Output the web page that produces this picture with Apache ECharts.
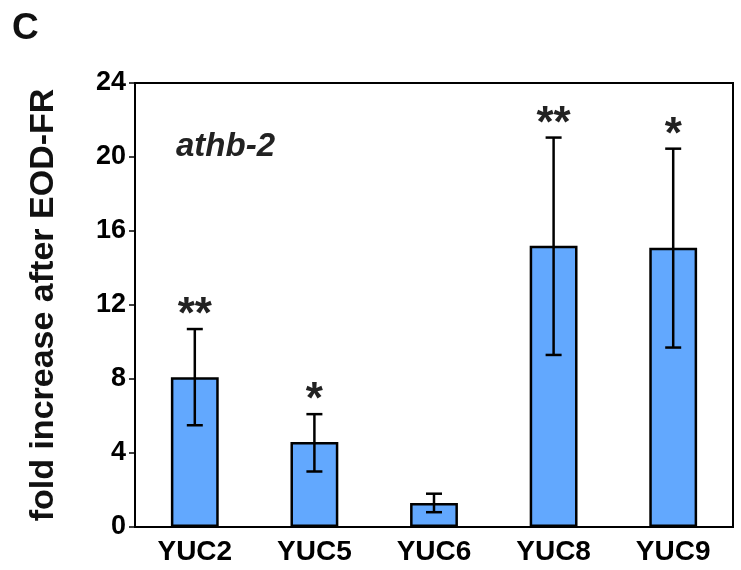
<!DOCTYPE html>
<html>
<head>
<meta charset="utf-8">
<script src="https://cdn.jsdelivr.net/npm/echarts@6/dist/echarts.min.js"></script>
<style>
  html, body { margin: 0; padding: 0; background: #fff; }
  #chart { width: 741px; height: 570px; }
</style>
</head>
<body>
<div id="chart"></div>
<script>
var categories = ['YUC2', 'YUC5', 'YUC6', 'YUC8', 'YUC9'];
var means = [8.1, 4.6, 1.3, 15.2, 15.1];
var errLow = [5.5, 3.0, 0.8, 9.3, 9.7];
var errHigh = [10.7, 6.1, 1.8, 21.05, 20.45];
var stars = ['**', '*', '', '**', '*'];
var yTicks = [0, 4, 8, 12, 16, 20, 24];

var font = '"Liberation Sans", Arial, sans-serif';

var chartDom = document.getElementById('chart');
var myChart = echarts.init(chartDom);

var errData = categories.map(function (c, i) {
    return [i, errLow[i], errHigh[i], stars[i]];
});

var option = {
    animation: false,
    backgroundColor: '#fff',
    graphic: [
        {
            type: 'text',
            left: 12,
            top: 10,
            style: {
                text: 'C',
                font: 'bold 37px ' + font,
                fill: '#111'
            }
        },
        {
            type: 'text',
            left: 176,
            top: 130,
            style: {
                text: 'athb-2',
                font: 'italic bold 33px ' + font,
                fill: '#222'
            }
        }
    ],
    grid: {
        left: 135,
        right: 8,
        top: 83,
        bottom: 43,
        show: true,
        borderColor: '#000',
        borderWidth: 2
    },
    xAxis: {
        type: 'category',
        data: categories,
        axisLine: { lineStyle: { color: '#000', width: 2 } },
        axisTick: { show: false },
        axisLabel: {
            fontFamily: font, fontSize: 28, fontWeight: 'bold', color: '#000', margin: 11
        }
    },
    yAxis: {
        type: 'value',
        min: yTicks[0],
        max: yTicks[yTicks.length - 1],
        interval: 4,
        name: 'fold increase after EOD-FR',
        nameLocation: 'middle',
        nameGap: 74,
        nameTextStyle: { fontFamily: font, fontSize: 34, fontWeight: 'bold', color: '#111' },
        axisLine: { show: true, lineStyle: { color: '#000', width: 2 } },
        axisTick: { show: true, length: 6, lineStyle: { color: '#000', width: 1.5 } },
        splitLine: { show: false },
        axisLabel: {
            fontFamily: font, fontSize: 27, fontWeight: 'bold', color: '#000', margin: 9
        }
    },
    series: [
        {
            type: 'bar',
            data: means,
            barWidth: '40%',
            itemStyle: { color: '#62a8fe', borderColor: '#000', borderWidth: 2.5 }
        },
        {
            type: 'custom',
            data: errData,
            z: 10,
            renderItem: function (params, api) {
                var x = api.value(0);
                var lo = api.coord([x, api.value(1)]);
                var hi = api.coord([x, api.value(2)]);
                var hw = 8;
                var style = { stroke: '#000', lineWidth: 2.5 };
                var children = [
                    { type: 'line', shape: { x1: lo[0], y1: lo[1], x2: hi[0], y2: hi[1] }, style: style },
                    { type: 'line', shape: { x1: lo[0] - hw, y1: lo[1], x2: lo[0] + hw, y2: lo[1] }, style: style },
                    { type: 'line', shape: { x1: hi[0] - hw, y1: hi[1], x2: hi[0] + hw, y2: hi[1] }, style: style }
                ];
                var s = api.value(3);
                if (s) {
                    children.push({
                        type: 'text',
                        x: hi[0],
                        y: hi[1] + 9,
                        style: {
                            text: s,
                            font: 'bold 44px ' + font,
                            fill: '#222',
                            align: 'center',
                            verticalAlign: 'bottom'
                        }
                    });
                }
                return { type: 'group', children: children };
            }
        }
    ]
};

option && myChart.setOption(option);
</script>
</body>
</html>
